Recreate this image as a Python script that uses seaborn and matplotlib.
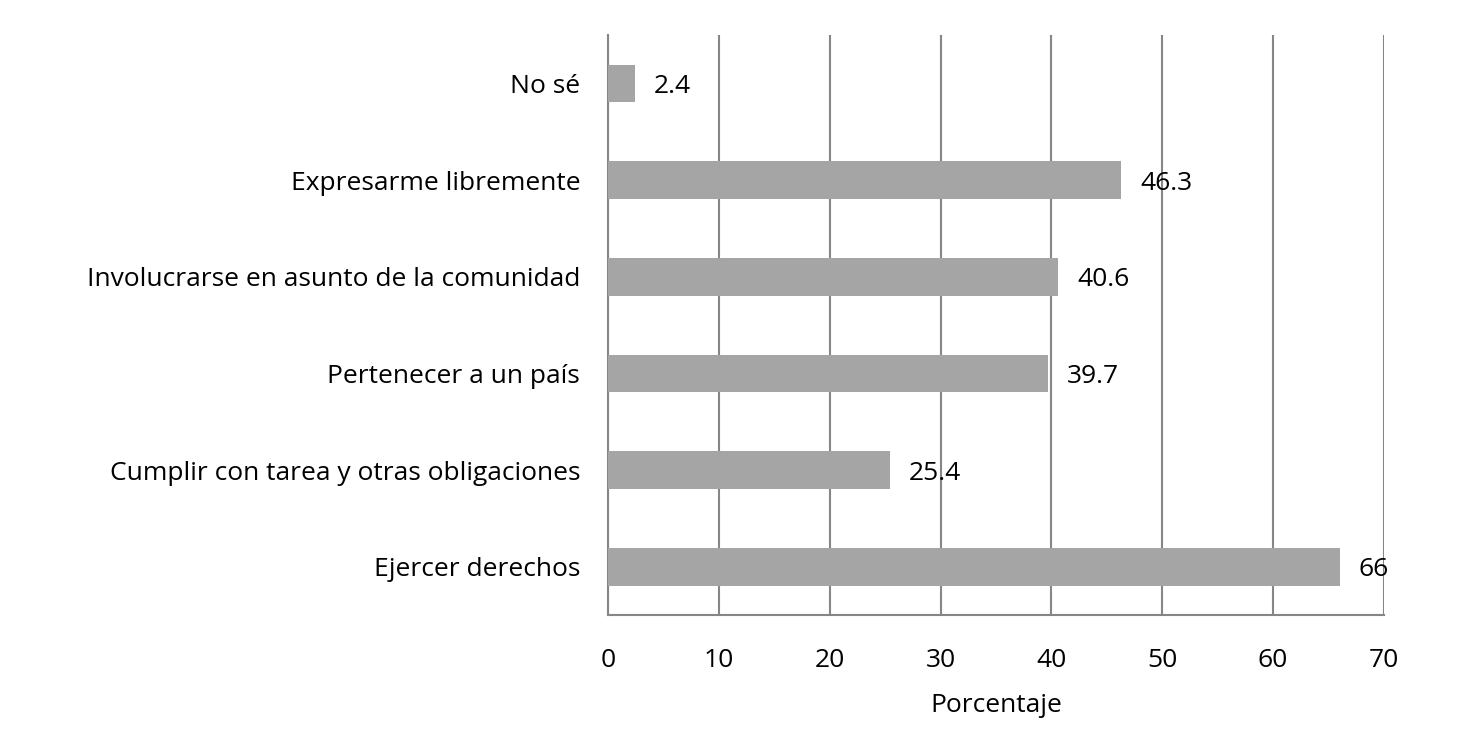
import pandas as pd
from matplotlib import pyplot as plt
import seaborn as sns

sns.set_theme(style='white')
plt.rcParams['font.family'] = ['Open Sans', 'DejaVu Sans']

categorias = ['No sé', 'Expresarme libremente', 'Involucrarse en asunto de la comunidad',
              'Pertenecer a un país', 'Cumplir con tarea y otras obligaciones', 'Ejercer derechos']
valores = [2.4, 46.3, 40.6, 39.7, 25.4, 66]
etiquetas = ['2.4', '46.3', '40.6', '39.7', '25.4', '66']

df = pd.DataFrame({'Categoria': categorias, 'Porcentaje': valores})

fig = plt.figure(figsize=(14.71, 7.53), dpi=100)
ax = fig.add_axes([0.4133, 0.1833, 0.5275, 0.770])

sns.barplot(ax=ax, data=df, x='Porcentaje', y='Categoria', color='#a5a5a5',
            saturation=1, width=0.39, orient='h', linewidth=0, zorder=3)

ax.set_xlim(0, 70)
ax.set_ylim(5.5, -0.5)
ax.set_xticks(range(0, 71, 10))
ax.grid(axis='x', color='#868686', linewidth=1.5, zorder=0)
ax.grid(axis='y', visible=False)
for s in ['top', 'right']:
    ax.spines[s].set_visible(False)
for s in ['left', 'bottom']:
    ax.spines[s].set_color('#868686')
    ax.spines[s].set_linewidth(1.5)
ax.tick_params(axis='both', length=0, labelsize=19, colors='black')
ax.tick_params(axis='y', pad=20)
ax.tick_params(axis='x', pad=24)

for i, (v, t) in enumerate(zip(valores, etiquetas)):
    ax.annotate(t, (v, i), xytext=(19, 0), textcoords='offset pixels',
                va='center_baseline', ha='left', fontsize=19, color='black', zorder=4)

ax.set_xlabel('Porcentaje', size=19, labelpad=14, color='black')
ax.set_ylabel('')

plt.savefig('out.png', dpi=100)
